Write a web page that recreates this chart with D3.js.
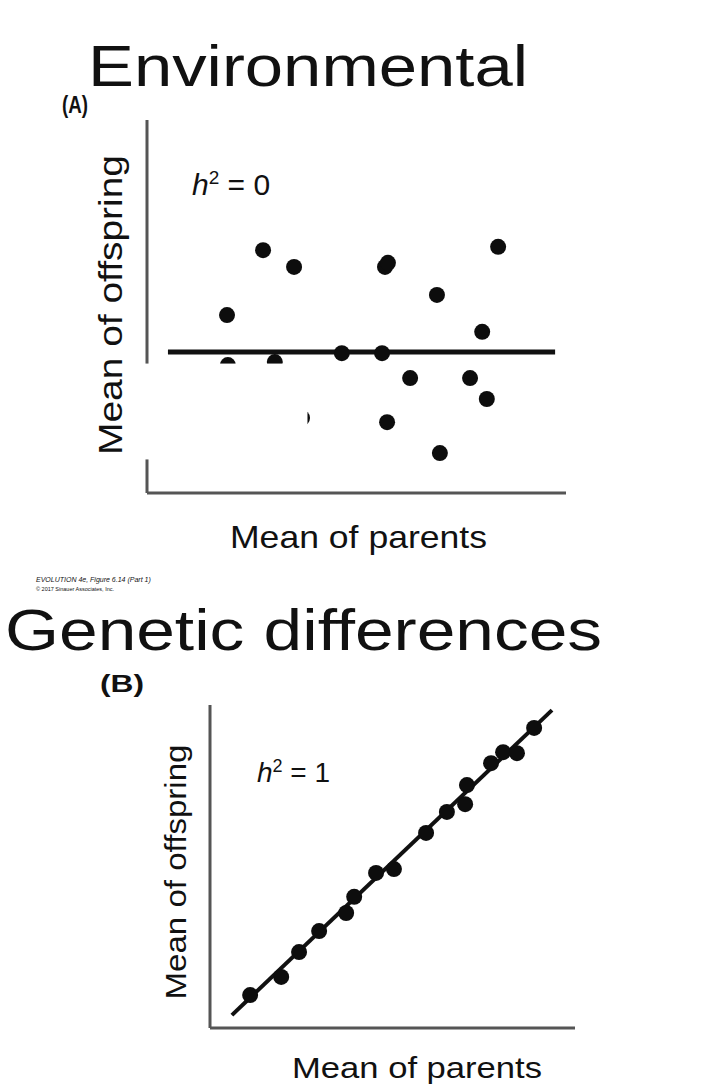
<!DOCTYPE html>
<html><head><meta charset="utf-8">
<script src="https://cdn.jsdelivr.net/npm/d3@7"></script>
<style>body{margin:0;background:#fff}svg{display:block}text{font-family:"Liberation Sans",Arial,sans-serif;fill:#111}</style>
</head><body><svg id="c" width="702" height="1090"></svg>
<script>
// Panel A: environmental (h2 = 0)
const envX = [2.77,3.51,5.68,5.75,8.38,6.92,1.91,8.0,4.65,5.61,6.28,7.71,8.11,5.73,6.99,1.93,3.05,3.70];
const envY = [6.51,6.06,6.06,6.17,6.60,5.31,4.77,4.32,3.75,3.75,3.08,3.08,2.52,1.90,1.07,3.43,3.51,2.01];
const envLineX = [0.5, 9.74];
const envLineY = [3.78, 3.78];
// Panel B: genetic (h2 = 1)
const genX = [1.10,1.95,2.44,2.99,3.73,3.95,4.55,5.04,5.92,6.49,6.99,7.04,7.70,8.03,8.41,8.88];
const genY = [1.02,1.58,2.35,3.00,3.56,4.06,4.80,4.92,6.04,6.69,6.93,7.52,8.20,8.54,8.51,9.29];
const genLineX = [0.60, 9.37];
const genLineY = [0.40, 9.84];

const svg = d3.select("#c");

function panel(o){
  const x = d3.scaleLinear().domain([0,10]).range([o.x0,o.x1]);
  const y = d3.scaleLinear().domain([0,10]).range([o.y0,o.y1]);
  const g = svg.append("g");
  g.append("line").attr("x1",x(0)).attr("x2",x(0)).attr("y1",y(0)).attr("y2",y(10)).attr("stroke","#555").attr("stroke-width",3);
  g.append("line").attr("x1",x(0)).attr("x2",x(10)).attr("y1",y(0)).attr("y2",y(0)).attr("stroke","#555").attr("stroke-width",3);
  g.append("line").attr("x1",x(o.lx[0])).attr("x2",x(o.lx[1])).attr("y1",y(o.ly[0])).attr("y2",y(o.ly[1])).attr("stroke","#111").attr("stroke-width",o.lw);
  g.selectAll("circle.p").data(o.xs.map((v,i)=>[v,o.ys[i]])).join("circle")
    .attr("cx",d=>x(d[0])).attr("cy",d=>y(d[1])).attr("r",o.r).attr("fill","#0d0d0d");
  return {x,y,g};
}

const A = panel({x0:147,x1:566,y0:493,y1:120,xs:envX,ys:envY,lx:envLineX,ly:envLineY,lw:5,r:8});
A.g.append("rect").attr("x",A.x(-0.3)).attr("y",A.y(3.47)).attr("width",A.x(3.83)-A.x(-0.3)).attr("height",A.y(0.9)-A.y(3.47)).attr("fill","#fff");

const B = panel({x0:210,x1:575,y0:1028,y1:705,xs:genX,ys:genY,lx:genLineX,ly:genLineY,lw:4,r:8});

function t(x,y,size,str,len){
  const e = svg.append("text").attr("x",x).attr("y",y).attr("font-size",size).text(str);
  if(len) e.attr("textLength",len).attr("lengthAdjust","spacingAndGlyphs");
  return e;
}
t(62,113,23,"(A)",26).attr("font-weight","bold");
t(88,86,58,"Environmental",440);
svg.append("text").attr("x",192).attr("y",195).attr("font-size",30).html('<tspan font-style="italic">h</tspan><tspan dy="-11" font-size="19">2</tspan><tspan dy="11"> = 0</tspan>');
t(230,548,32,"Mean of parents",257);
svg.append("text").attr("transform","translate(122,305) rotate(-90)").attr("font-size",33).attr("text-anchor","middle").attr("textLength",300).attr("lengthAdjust","spacingAndGlyphs").text("Mean of offspring");
svg.append("text").attr("x",36).attr("y",582).attr("font-size",7).attr("font-style","italic").attr("fill","#555").text("EVOLUTION 4e, Figure 6.14 (Part 1)");
svg.append("text").attr("x",36).attr("y",591).attr("font-size",5.5).attr("fill","#555").text("© 2017 Sinauer Associates, Inc.");
t(5,650,58,"Genetic differences",597);
t(100,692,24,"(B)",44).attr("font-weight","bold");
svg.append("text").attr("x",257).attr("y",782).attr("font-size",28).html('<tspan font-style="italic">h</tspan><tspan dy="-10" font-size="18">2</tspan><tspan dy="10"> = 1</tspan>');
t(292,1078,30,"Mean of parents",250);
svg.append("text").attr("transform","translate(186,872) rotate(-90)").attr("font-size",30).attr("text-anchor","middle").attr("textLength",255).attr("lengthAdjust","spacingAndGlyphs").text("Mean of offspring");
</script></body></html>
